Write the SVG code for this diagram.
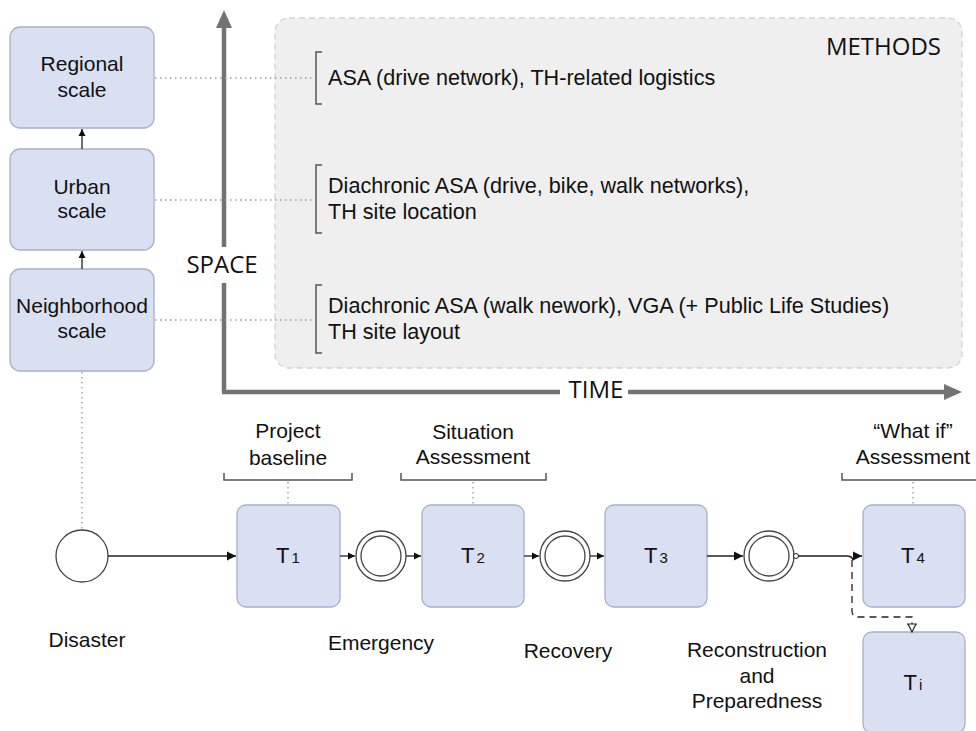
<svg xmlns="http://www.w3.org/2000/svg" width="976" height="731" viewBox="0 0 976 731">
<defs>
<style>
.box{fill:#d9e0f2;stroke:#a7b0c6;stroke-width:1.3}
.lbl{font-family:"Liberation Sans",Arial,sans-serif;font-size:21px;fill:#111}
.mth{font-family:"Liberation Sans",Arial,sans-serif;font-size:21.6px;fill:#111}
.ax{font-family:"Open Sans","Noto Sans",sans-serif;font-size:24px;fill:#111}
.tl{font-family:"Liberation Sans",Arial,sans-serif;font-size:22px;fill:#111;text-anchor:middle}
.dot{stroke:#9a9a9a;stroke-width:1.3;stroke-dasharray:1.5 3.5;fill:none}
.conn{stroke:#222;stroke-width:1.3;fill:none}
.brk{stroke:#555;stroke-width:1.5;fill:none}
.axis{stroke:#737373;stroke-width:4.5;fill:none}
.ev{fill:#fff;stroke:#444;stroke-width:1.3}
</style>
<marker id="ah" markerWidth="10" markerHeight="10" refX="9" refY="5" orient="auto" markerUnits="userSpaceOnUse">
<path d="M0,0.5 L9,5 L0,9.5 Z" fill="#111"/>
</marker>
<marker id="ahs" markerWidth="8" markerHeight="8" refX="7" refY="4" orient="auto" markerUnits="userSpaceOnUse">
<path d="M0,0.5 L7,4 L0,7.5 Z" fill="#111"/>
</marker>
</defs>
<rect width="976" height="731" fill="#fff"/>

<!-- methods panel -->
<g id="methods">
<rect x="275" y="18" width="687" height="350" rx="14" fill="#efefef" stroke="#d2d2d2" stroke-width="1.3" stroke-dasharray="6 4"/>
<text class="ax" x="941" y="55" text-anchor="end">METHODS</text>
<path class="brk" d="M322,52 H316 V104 H322"/>
<text class="mth" x="328" y="85">ASA (drive network), TH-related logistics</text>
<path class="brk" d="M322,165 H316 V233 H322"/>
<text class="mth" x="328" y="193">Diachronic ASA (drive, bike, walk networks),</text>
<text class="mth" x="328" y="219">TH site location</text>
<path class="brk" d="M322,285 H316 V353 H322"/>
<text class="mth" x="328" y="313">Diachronic ASA (walk nework), VGA (+ Public Life Studies)</text>
<text class="mth" x="328" y="339">TH site layout</text>
</g>

<!-- axes -->
<g id="axes">
<path class="axis" d="M224,392 V283 M224,247 V25"/>
<path d="M216,28 L224,10 L232,28 Z" fill="#737373"/>
<path class="axis" d="M222,392 H560 M628,392 H946"/>
<path d="M944,384 L962,392 L944,400 Z" fill="#737373"/>
<text class="ax" x="222" y="273" text-anchor="middle">SPACE</text>
<text class="ax" x="596" y="398" text-anchor="middle">TIME</text>
</g>

<!-- scale nodes -->
<g id="regional">
<rect class="box" x="10" y="27" width="144" height="101" rx="10"/>
<text class="lbl" x="82" y="71" text-anchor="middle">Regional</text>
<text class="lbl" x="82" y="97" text-anchor="middle">scale</text>
</g>
<g id="urban">
<rect class="box" x="10" y="149" width="144" height="101" rx="10"/>
<text class="lbl" x="82" y="194" text-anchor="middle">Urban</text>
<text class="lbl" x="82" y="218" text-anchor="middle">scale</text>
</g>
<g id="neighborhood">
<rect class="box" x="10" y="269" width="144" height="102" rx="10"/>
<text class="lbl" x="82" y="313" text-anchor="middle">Neighborhood</text>
<text class="lbl" x="82" y="338" text-anchor="middle">scale</text>
</g>

<!-- timeline nodes -->
<g id="disaster">
<circle class="ev" cx="82" cy="556" r="26"/>
<text class="lbl" x="87" y="647" text-anchor="middle">Disaster</text>
</g>
<g id="t1">
<rect class="box" x="237" y="505" width="103" height="102" rx="9"/>
<text class="tl" x="288" y="563">T<tspan font-size="15" dx="2">1</tspan></text>
</g>
<g id="emergency">
<circle class="ev" cx="381" cy="556" r="25"/>
<circle class="ev" cx="381" cy="556" r="20"/>
<text class="lbl" x="381" y="650" text-anchor="middle">Emergency</text>
</g>
<g id="t2">
<rect class="box" x="422" y="505" width="102" height="102" rx="9"/>
<text class="tl" x="473" y="563">T<tspan font-size="15" dx="2">2</tspan></text>
</g>
<g id="recovery">
<circle class="ev" cx="565" cy="556" r="25"/>
<circle class="ev" cx="565" cy="556" r="20"/>
<text class="lbl" x="568" y="658" text-anchor="middle">Recovery</text>
</g>
<g id="t3">
<rect class="box" x="605" y="505" width="102" height="102" rx="9"/>
<text class="tl" x="656" y="563">T<tspan font-size="15" dx="2">3</tspan></text>
</g>
<g id="reconstruction">
<circle class="ev" cx="769" cy="556" r="25"/>
<circle class="ev" cx="769" cy="556" r="20"/>
<text class="lbl" x="757" y="657" text-anchor="middle">Reconstruction</text>
<text class="lbl" x="757" y="683" text-anchor="middle">and</text>
<text class="lbl" x="757" y="708" text-anchor="middle">Preparedness</text>
</g>
<g id="t4">
<rect class="box" x="863" y="505" width="102" height="102" rx="9"/>
<text class="tl" x="913" y="563">T<tspan font-size="15" dx="2">4</tspan></text>
</g>
<g id="ti">
<rect class="box" x="863" y="632" width="102" height="101" rx="9"/>
<text class="tl" x="913" y="690">T<tspan font-size="15" dx="2">i</tspan></text>
</g>

<!-- phase labels -->
<g id="label-baseline">
<text class="lbl" x="288" y="438" text-anchor="middle">Project</text>
<text class="lbl" x="288" y="465" text-anchor="middle">baseline</text>
<path class="brk" d="M224,473 V480 H352 V473"/>
</g>
<g id="label-situation">
<text class="lbl" x="473" y="439" text-anchor="middle">Situation</text>
<text class="lbl" x="473" y="464" text-anchor="middle">Assessment</text>
<path class="brk" d="M401,473 V480 H546 V473"/>
</g>
<g id="label-whatif">
<text class="lbl" x="913" y="438" text-anchor="middle">“What if”</text>
<text class="lbl" x="913" y="464" text-anchor="middle">Assessment</text>
<path class="brk" d="M842,473 V480 H980"/>
</g>

<!-- connectors -->
<g id="connectors">
<path class="dot" d="M155,78 H313 M155,200 H313 M155,320 H313"/>
<path class="dot" d="M82,372 V530"/>
<path class="dot" d="M288,482 V505 M473,482 V505 M913,482 V505"/>
<path class="conn" d="M82,149 V129" marker-end="url(#ahs)"/>
<path class="conn" d="M82,269 V251" marker-end="url(#ahs)"/>
<path class="conn" d="M108,556 H236" marker-end="url(#ah)"/>
<path class="conn" d="M340,556 H355" marker-end="url(#ahs)"/>
<path class="conn" d="M406,556 H421" marker-end="url(#ahs)"/>
<path class="conn" d="M524,556 H539" marker-end="url(#ahs)"/>
<path class="conn" d="M590,556 H604" marker-end="url(#ahs)"/>
<path class="conn" d="M707,556 H743" marker-end="url(#ah)"/>
<circle cx="796" cy="556" r="2.5" fill="#fff" stroke="#222" stroke-width="1"/>
<path class="conn" d="M798,556 H847 Q852,556 853,560 Q854,556 858,556 H862" marker-end="url(#ah)"/>
<path class="conn" stroke-dasharray="7 5" d="M852,560 V611 Q852,617 858,617 H912 V624"/>
<path d="M908,624 L912,632 L916,624 M907,624 H917" fill="none" stroke="#222" stroke-width="1.2"/>
</g>
</svg>
